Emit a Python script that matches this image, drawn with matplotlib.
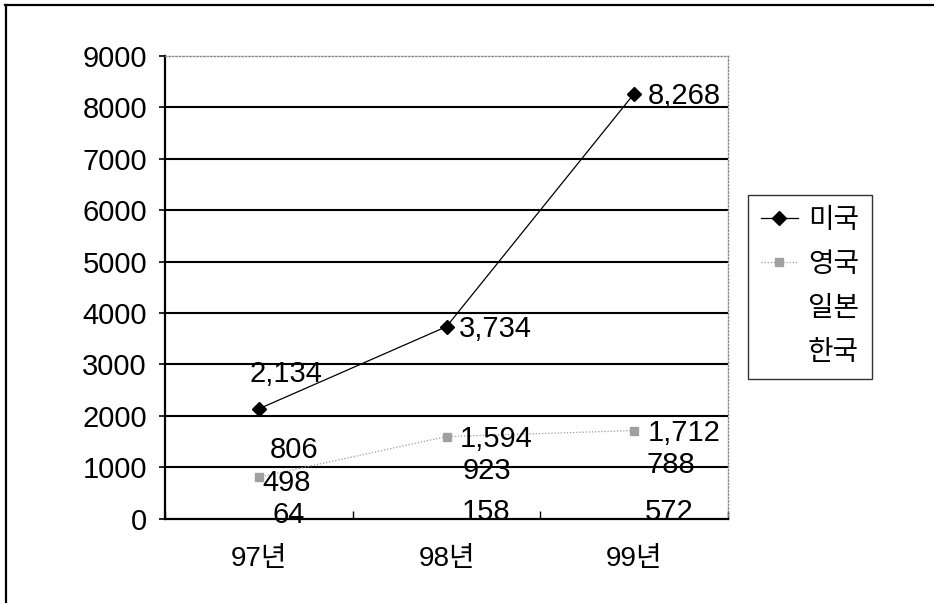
import matplotlib
matplotlib.use("Agg")
import matplotlib.pyplot as plt
from matplotlib.lines import Line2D
from matplotlib import font_manager

# --- data -------------------------------------------------------------
years = ["97년", "98년", "99년"]
series_names = ["미국", "영국", "일본", "한국"]
usa = [2134, 3734, 8268]
uk = [806, 1594, 1712]
japan = [498, 923, 788]
korea = [64, 158, 572]
y_ticks = [0, 1000, 2000, 3000, 4000, 5000, 6000, 7000, 8000, 9000]

# --- fonts --------------------------------------------------------------
available = {f.name for f in font_manager.fontManager.ttflist}
num_family = [f for f in ["Liberation Sans Narrow", "Liberation Sans"] if f in available][:1]
FAM = num_family + ["Noto Sans CJK KR", "DejaVu Sans"]
plt.rcParams["font.family"] = FAM

W, H, DPI = 934, 603, 100
fig = plt.figure(figsize=(W / DPI, H / DPI), dpi=DPI)
fig.patch.set_facecolor("white")

# plot area in pixels: x 165..728, y 56..518
L, R, T, B = 165, 728, 56, 518.5
ax = fig.add_axes([L / W, 1 - B / H, (R - L) / W, (B - T) / H])
ax.set_xlim(-0.5, 2.5)
ax.set_ylim(0, 9000)

x = list(range(len(years)))

# gridlines
for v in y_ticks[1:-1]:
    ax.axhline(v, color="black", lw=1.5, zorder=1)

# spines
for s in ["top", "right"]:
    ax.spines[s].set_color("#8a8a8a")
    ax.spines[s].set_linestyle((0, (1, 1.5)))
    ax.spines[s].set_linewidth(1.0)
for s in ["left", "bottom"]:
    ax.spines[s].set_color("black")
    ax.spines[s].set_linewidth(1.6)

# series
ax.plot(x, usa, color="black", lw=0.9, marker="D", ms=7, mfc="black",
        mec="black", zorder=4, clip_on=False)
ax.plot(x, uk, color="#9a9a9a", lw=0.9, ls=(0, (1, 1.5)), marker="s", ms=6,
        mfc="#a0a0a0", mec="#a0a0a0", zorder=4, clip_on=False)
ax.plot(x, japan, ls="none", marker="none")
ax.plot(x, korea, ls="none", marker="none")

# data labels (offsets in pixels from each point, label centred)
label_offsets = {
    "usa": [(27, 35), (49, -2), (50, -2)],
    "uk": [(35, 27), (50, -2), (50, -2)],
    "japan": [(28, 10), (40, 0), (37, 13)],
    "korea": [(30, 0), (40, -2), (35, -23)],
}
label_size = 21
for key, vals in [("usa", usa), ("uk", uk), ("japan", japan), ("korea", korea)]:
    for i, v in enumerate(vals):
        dx, dy = label_offsets[key][i]
        ax.annotate(f"{v:,}", (i, v), xytext=(dx, dy), textcoords="offset pixels",
                    ha="center", va="center", fontsize=label_size,
                    color="black", zorder=6, annotation_clip=False)

# axes ticks
ax.set_yticks(y_ticks)
ax.set_yticklabels([str(v) for v in y_ticks])
ax.tick_params(axis="y", direction="out", length=4, width=1.2,
               pad=9, labelsize=21, colors="black")

ax.set_xticks([-0.5, 0.5, 1.5, 2.5])
ax.set_xticklabels([])
ax.tick_params(axis="x", which="major", direction="in", length=6, width=1.0)
ax.set_xticks(x, minor=True)
ax.set_xticklabels(years, minor=True)
ax.tick_params(axis="x", which="minor", length=0, pad=20, labelsize=20)

# legend
handles = [
    Line2D([], [], color="black", lw=0.9, marker="D", ms=7, mfc="black", mec="black"),
    Line2D([], [], color="#9a9a9a", lw=0.9, ls=(0, (1, 1.5)), marker="s", ms=6,
           mfc="#a0a0a0", mec="#a0a0a0"),
    Line2D([], [], color="none"),
    Line2D([], [], color="none"),
]
leg = fig.legend(handles, series_names, loc="upper left",
                 bbox_to_anchor=(748 / W, 1 - 195 / H), borderaxespad=0,
                 handlelength=1.35, handletextpad=0.36,
                 borderpad=0.45, labelspacing=0.66, frameon=True,
                 fancybox=False, shadow=False, prop={"family": FAM, "size": 20})
leg.get_frame().set_edgecolor("black")
leg.get_frame().set_linewidth(1.0)

# outer chart frame (top and left edges)
fig.add_artist(Line2D([5 / W, 1], [1 - 4.5 / H, 1 - 4.5 / H], color="black", lw=1.6))
fig.add_artist(Line2D([5.5 / W, 5.5 / W], [0, 1 - 4.5 / H], color="black", lw=1.6))

fig.savefig("out.png", dpi=DPI, facecolor="white")
